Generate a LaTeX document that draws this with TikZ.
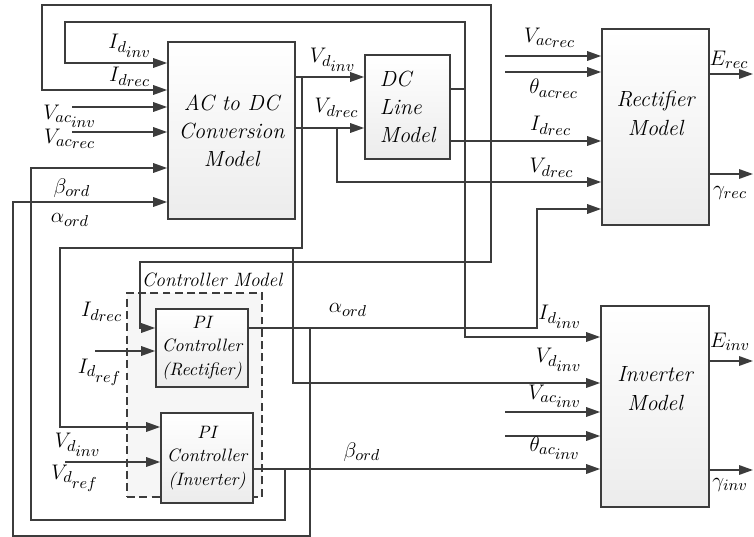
\documentclass[tikz,border=0pt]{standalone}
\usepackage{amsmath}
\usetikzlibrary{arrows.meta}
\definecolor{wirecol}{RGB}{60,60,60}
\newcommand{\dsub}[3]{$#1_{#2_{\scriptstyle #3}}$}
\tikzset{
  block/.style={draw=wirecol,line width=0.95pt,top color=white,bottom color=gray!15,align=center,font=\fontsize{12.5}{16}\selectfont\itshape},
  blocktxt/.style={align=center,inner sep=0pt,font=\fontsize{12.5}{16.5}\selectfont\itshape},
  pibox/.style={draw=wirecol,line width=0.95pt,top color=white,bottom color=gray!15,align=center,inner sep=1pt,minimum width=1.84cm,font=\fontsize{10.2}{13.5}\selectfont\itshape},
  ctrlbox/.style={draw=wirecol,line width=1pt,dash pattern=on 4.5pt off 2.5pt,fill=gray!7,minimum width=2.70cm,minimum height=4.08cm},
  wire/.style={draw=wirecol,line width=0.95pt},
  flow/.style={wire,-{Triangle[length=2.8mm,width=1.9mm]}},
  sig/.style={font=\fontsize{13}{15}\selectfont,inner sep=0pt}
}

\begin{document}
\begin{tikzpicture}[x=0.02cm,y=-0.02cm]
\useasboundingbox (0,0) rectangle (754,537);

% Controller Model
\node[ctrlbox] (ctrl) at (194.5,395) {};
\node[font=\fontsize{11}{13}\selectfont\itshape,inner sep=0pt] (lctrl) at (212,280) {Controller Model};

\node[block,minimum width=2.54cm,minimum height=3.54cm] (acdc) at (231.5,130.5) {AC to DC\\Conversion\\Model};
\node[block,align=left,minimum width=1.70cm,minimum height=2.08cm] (dcline) at (407.5,107) {DC\\Line\\Model};
\node[block,minimum width=2.14cm,minimum height=3.92cm] (rect) at (655.5,127) {};
\node[blocktxt] (recttxt) at (655.5,113) {Rectifier\\Model};
\node[block,minimum width=2.16cm,minimum height=4.02cm] (inv) at (655,406.5) {};
\node[blocktxt] (invtxt) at (655,389) {Inverter\\Model};
\node[pibox,minimum height=1.56cm] (pirec) at (202,348) {PI\\Controller\\(Rectifier)};
\node[pibox,minimum height=1.80cm] (piinv) at (207,458) {PI\\Controller\\(Inverter)};

% junctions
\coordinate (jIinv) at (465,89);
\coordinate (jIrec) at (491,141);
\coordinate (jVinv) at (302,77);
\coordinate (jVinvB) at (293,248);
\coordinate (jVrec) at (337,128);
\coordinate (jalpha) at (310,328);
\coordinate (jbeta) at (285,469);

% free ends
\coordinate (sVacinvA) at (72,107);
\coordinate (sVacrecA) at (72,132);
\coordinate (sVacrecB) at (505,56);
\coordinate (sthrec) at (505,72);
\coordinate (sVacinvB) at (505,412);
\coordinate (sthinv) at (505,436);
\coordinate (sIref) at (95,351);
\coordinate (sVdref) at (65,462);
\coordinate (oErec) at (753,74);
\coordinate (ogrec) at (753,174);
\coordinate (oEinv) at (753,361);
\coordinate (oginv) at (753,470);

% I_d inverter
\draw[wire] (dcline.east |- jIinv) -- (jIinv);
\draw[flow] (jIinv) |- (65,22) |- (acdc.west |- 0,63);
\draw[flow] (jIinv) |- (inv.west |- 0,337);

% I_d rectifier
\draw[flow] (dcline.east |- jIrec) -- (rect.west |- jIrec);
\draw[flow] (jIrec) |- (42,5) |- (acdc.west |- 0,90);
\draw[flow] (jIrec) |- (140,262) |- (pirec.west |- 0,328);

% V_d inverter
\draw[flow] (acdc.east |- jVinv) -- (dcline.west |- jVinv);
\draw[flow] (jVinv) |- (60,248) |- (piinv.west |- 0,427);
\draw[flow] (jVinvB) |- (inv.west |- 0,383);

% V_d rectifier
\draw[flow] (acdc.east |- jVrec) -- (dcline.west |- jVrec);
\draw[flow] (jVrec) |- (rect.west |- 0,182);

% alpha / beta
\draw[flow] (pirec.east |- 0,328) -| (537,209) -- (rect.west |- 0,209);
\draw[flow] (jalpha) |- (13,536) |- (acdc.west |- 0,202);
\draw[flow] (piinv.east |- jbeta) -- (inv.west |- jbeta);
\draw[flow] (jbeta) |- (31,520) |- (acdc.west |- 0,168);

% outer inputs
\draw[flow] (sVacinvA) -- (acdc.west |- sVacinvA);
\draw[flow] (sVacrecA) -- (acdc.west |- sVacrecA);
\draw[flow] (sVacrecB) -- (rect.west |- sVacrecB);
\draw[flow] (sthrec) -- (rect.west |- sthrec);
\draw[flow] (sVacinvB) -- (inv.west |- sVacinvB);
\draw[flow] (sthinv) -- (inv.west |- sthinv);
\draw[flow] (sIref) -- (pirec.west |- sIref);
\draw[flow] (sVdref) -- (piinv.west |- sVdref);

% outputs
\draw[flow] (rect.east |- oErec) -- (oErec);
\draw[flow] (rect.east |- ogrec) -- (ogrec);
\draw[flow] (inv.east |- oEinv) -- (oEinv);
\draw[flow] (inv.east |- oginv) -- (oginv);

% signal labels
\node[sig] (lIinvA) at (130,46) {\dsub{I}{d}{inv}};
\node[sig] (lIrecA) at (130,77) {\dsub{I}{d}{rec}};
\node[sig] (lVacinvA) at (70,116) {\dsub{V}{ac}{inv}};
\node[sig] (lVacrecA) at (70,139) {\dsub{V}{ac}{rec}};
\node[sig] (lbetaA) at (72,188) {$\beta_{ord}$};
\node[sig] (lalphaA) at (70,220) {$\alpha_{ord}$};
\node[sig] (lVdinvA) at (333,60) {\dsub{V}{d}{inv}};
\node[sig] (lVdrecA) at (337,108) {\dsub{V}{d}{rec}};
\node[sig] (lVacrecB) at (550,38) {\dsub{V}{ac}{rec}};
\node[sig] (lthrec) at (554,89) {\dsub{\theta}{ac}{rec}};
\node[sig] (lIrecB) at (551,126) {\dsub{I}{d}{rec}};
\node[sig] (lVdrecB) at (552,168) {\dsub{V}{d}{rec}};
\node[sig] (lErec) at (729,60) {$E_{rec}$};
\node[sig] (lgrec) at (730,193) {$\gamma_{rec}$};
\node[sig] (lIinvB) at (560,317) {\dsub{I}{d}{inv}};
\node[sig] (lVdinvB) at (559,360) {\dsub{V}{d}{inv}};
\node[sig] (lVacinvB) at (555,396) {\dsub{V}{ac}{inv}};
\node[sig] (lthinv) at (555,448) {\dsub{\theta}{ac}{inv}};
\node[sig] (lEinv) at (730,342) {$E_{inv}$};
\node[sig] (lginv) at (730,485) {$\gamma_{inv}$};
\node[sig] (lIrecC) at (102,312) {\dsub{I}{d}{rec}};
\node[sig] (lIref) at (100,372) {\dsub{I}{d}{ref}};
\node[sig] (lVdinvC) at (78,445) {\dsub{V}{d}{inv}};
\node[sig] (lVdref) at (75,478) {\dsub{V}{d}{ref}};
\node[sig] (lalphaB) at (348,310) {$\alpha_{ord}$};
\node[sig] (lbetaB) at (362,452) {$\beta_{ord}$};
\end{tikzpicture}
\end{document}
